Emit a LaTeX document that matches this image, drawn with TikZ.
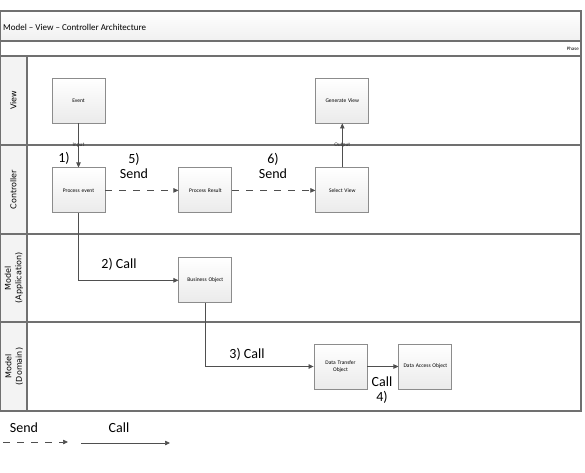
\documentclass[tikz,border=0pt]{standalone}
\usepackage{fontspec}
\setmainfont{Carlito}
\newfontfamily\headfont{DejaVu Sans}
\usetikzlibrary{positioning,arrows.meta,calc}

\definecolor{lanegrey}{HTML}{707070}
\definecolor{boxgrey}{HTML}{8C8C8C}
\definecolor{headfill}{HTML}{F3F3F3}
\definecolor{flowgrey}{HTML}{4F4F4F}

\tikzset{
  procbox/.style={draw=boxgrey, line width=0.9pt, top color=white, bottom color=black!8,
    minimum width=53pt, minimum height=45pt, text width=50pt, inner sep=1pt,
    align=center, font=\fontsize{5.5}{7}\selectfont},
  callarrow/.style={draw=flowgrey, line width=0.7pt, -{Triangle[length=5pt,width=4.5pt]}},
  sendarrow/.style={callarrow, dash pattern=on 7pt off 7pt},
  steplabel/.style={font=\fontsize{14}{15}\selectfont, align=center, inner sep=0pt},
  flowtag/.style={font=\fontsize{5.5}{6}\selectfont, inner sep=0.3pt, text=black!80},
  lanehead/.style={rotate=90, align=center, font=\headfont\fontsize{8}{10.5}\selectfont},
  laneline/.style={draw=lanegrey, line width=1.1pt}
}

\begin{document}
\begin{tikzpicture}[x=1pt, y=-1pt]
  \useasboundingbox (0,0) rectangle (585,472);
  % pool and lanes
  \shade[top color=white, bottom color=black!6] (0.5,11) rectangle (581,41);
  \fill[headfill] (0.5,56) rectangle (27,411);
  \draw[laneline] (0.5,11) rectangle (581,411);
  \draw[laneline] (0.5,41) -- (581,41);
  \draw[laneline] (0.5,56) -- (581,56);
  \foreach \y in {145,234,322}
    \draw[laneline] (0.5,\y) -- (581,\y);
  \draw[laneline] (27,56) -- (27,411);
  \node[anchor=west, inner sep=0pt, font=\fontsize{9}{11}\selectfont] (title) at (3,27) {Model -- View -- Controller Architecture};
  \node[anchor=east, inner sep=0pt, font=\fontsize{5}{6}\selectfont] (phase) at (579,48.5) {Phase};
  \node[lanehead] (hview) at (13.5,100.5) {View};
  \node[lanehead] (hctrl) at (13.5,189.5) {Controller};
  \node[lanehead] (happ) at (14,278) {Model\\(Application)};
  \node[lanehead] (hdom) at (14,366.5) {Model\\(Domain)};
  % steps
  \node[procbox] (event) at (78.5,100.5) {Event};
  \node[procbox, below=44pt of event] (procevent) {Process event};
  \node[procbox, right=73pt of procevent] (procres) {Process Result};
  \node[procbox, right=83pt of procres] (selview) {Select View};
  \node[procbox, above=44pt of selview] (genview) {Generate View};
  \node[procbox, below=44pt of procres] (busobj) {Business Object};
  \node[procbox] (dto) at (340.5,366.5) {Data Transfer\\Object};
  \node[procbox, right=31pt of dto] (dao) {Data Access Object};
  % flows
  \draw[callarrow] (event) -- node[flowtag] {Input} (procevent);
  \draw[callarrow] (selview) -- node[flowtag] {Output} (genview);
  \draw[sendarrow] (procevent) -- (procres);
  \draw[sendarrow] (procres) -- (selview);
  \draw[callarrow] (procevent) |- (busobj);
  \draw[callarrow] (busobj) |- (dto);
  \draw[callarrow] (dto) -- (dao);
  \node[steplabel] (s1) at (64,158) {1)};
  \node[steplabel] (s5) at (134,166) {5)\\Send};
  \node[steplabel] (s6) at (273,166) {6)\\Send};
  \node[steplabel] (s2) at (119,264) {2) Call};
  \node[steplabel] (s3) at (247,354) {3) Call};
  \node[steplabel] (s4) at (382,390) {Call\\4)};
  % legend
  \coordinate (sendA) at (3,442);
  \coordinate (sendB) at (68,442);
  \coordinate (callA) at (81,443);
  \coordinate (callB) at (170,443);
  \draw[sendarrow] (sendA) -- (sendB);
  \draw[callarrow] (callA) -- (callB);
  \node[steplabel] (lsend) at (24,428) {Send};
  \node[steplabel] (lcall) at (119,428) {Call};
\end{tikzpicture}
\end{document}
